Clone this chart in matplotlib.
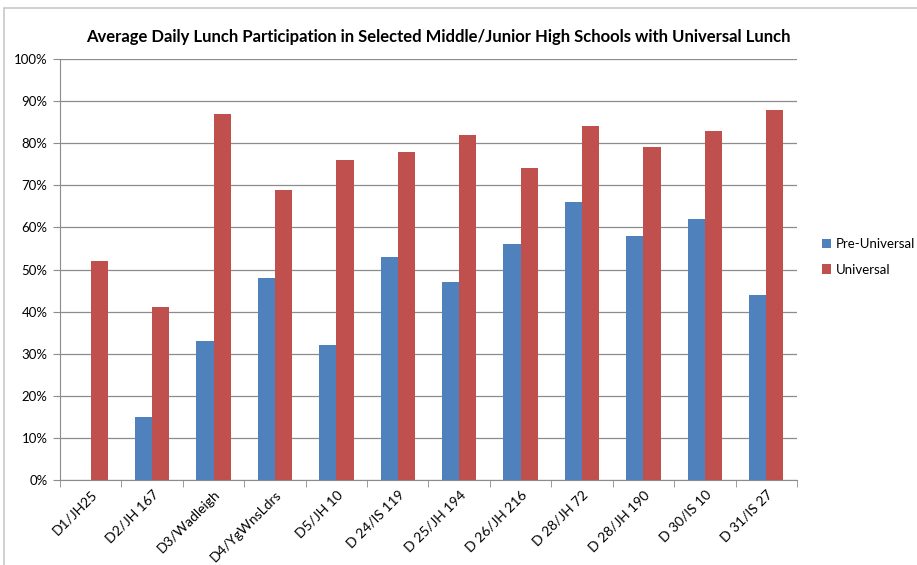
import matplotlib.pyplot as plt
import matplotlib.patches as mpatches
import numpy as np

schools = ["D1/JH25", "D2/JH 167", "D3/Wadleigh", "D4/YgWnsLdrs", "D5/JH 10",
           "D 24/IS 119", "D 25/JH 194", "D 26/JH 216", "D 28/JH 72",
           "D 28/JH 190", "D 30/IS 10", "D 31/IS 27"]
pre_universal = [0, 15, 33, 48, 32, 53, 47, 56, 66, 58, 62, 44]
universal = [52, 41, 87, 69, 76, 78, 82, 74, 84, 79, 83, 88]

plt.rcParams['font.family'] = ['Lato', 'DejaVu Sans']

fig = plt.figure(figsize=(9.17, 5.65), dpi=100)
ax = fig.add_axes([0.0654, 0.1504, 0.8037, 0.7452])

# outer chart frame
fig.patches.append(mpatches.Rectangle((4 / 917, -0.1), 1.2, 1 - 8 / 565 + 0.1,
                                      transform=fig.transFigure, fill=False,
                                      edgecolor='#c8c8c8', linewidth=1.2))

x = np.arange(len(schools))
w = 0.28
ax.bar(x - w / 2, pre_universal, w, color='#4F81BD', label='Pre-Universal')
ax.bar(x + w / 2, universal, w, color='#C0504D', label='Universal')

ax.set_xlim(-0.5, len(schools) - 0.5)
ax.set_ylim(0, 100)
ax.set_yticks(range(0, 101, 10))
ax.set_yticklabels([f"{v}%" for v in range(0, 101, 10)], fontsize=9.5)
ax.yaxis.grid(True, color='#8c8c8c', linewidth=0.9)
ax.set_axisbelow(True)

ax.set_xticks(x)
ax.set_xticklabels(schools, rotation=45, ha='right', rotation_mode='anchor', fontsize=10)
ax.tick_params(axis='x', length=0, pad=6)
ax.set_xticks(np.arange(-0.5, len(schools)), minor=True)
ax.tick_params(axis='x', which='minor', length=5, color='#8c8c8c')
ax.tick_params(axis='y', length=5, color='#8c8c8c', pad=4)

for s in ['top', 'right']:
    ax.spines[s].set_visible(False)
for s in ['left', 'bottom']:
    ax.spines[s].set_color('#8c8c8c')

fig.text(0.478, 0.934, "Average Daily Lunch Participation in Selected Middle/Junior High Schools with Universal Lunch",
         ha='center', va='center', fontsize=12, fontweight='bold')

fig.legend(loc='center left', bbox_to_anchor=(0.883, 0.545), frameon=False,
           fontsize=9.5, handlelength=0.7, handleheight=0.7, handletextpad=0.4,
           labelspacing=1.0)

fig.savefig("out.png", dpi=100)
